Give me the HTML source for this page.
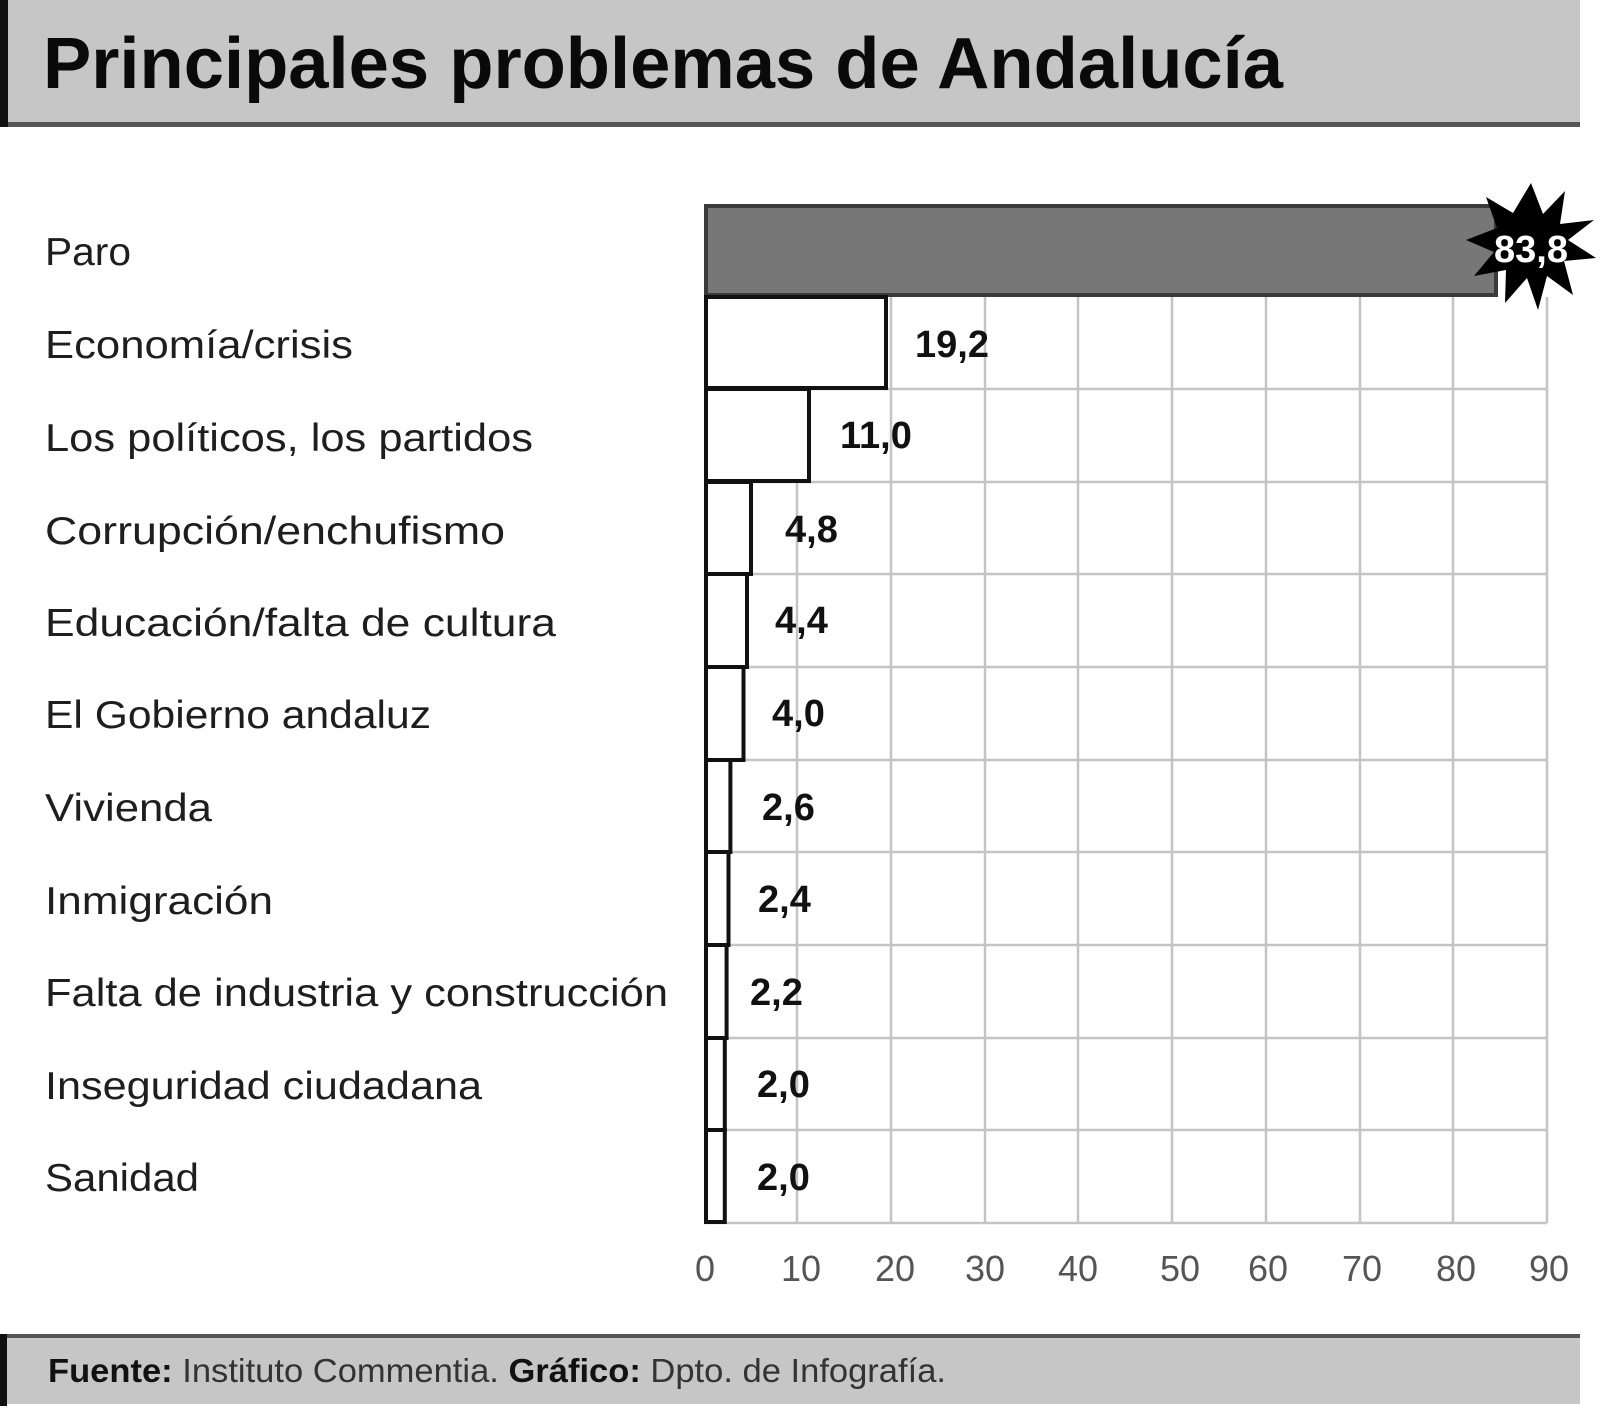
<!DOCTYPE html>
<html><head><meta charset="utf-8"><style>
html,body{margin:0;padding:0;background:#fff}
svg{display:block}
</style></head><body>
<svg width="1600" height="1409" viewBox="0 0 1600 1409" xmlns="http://www.w3.org/2000/svg" font-family="Liberation Sans, sans-serif">
<rect x="0" y="0" width="1580" height="126" fill="#c6c6c6"/>
<rect x="0" y="122" width="1580" height="5" fill="#555"/>
<rect x="0" y="0" width="8" height="127" fill="#111"/>
<text x="43" y="88" font-size="72" font-weight="bold" fill="#0a0a0a" textLength="1240" lengthAdjust="spacingAndGlyphs">Principales problemas de Andalucía</text>

<g stroke="#c4c4c4" stroke-width="2.5">
<line x1="797" y1="297" x2="797" y2="1223"/><line x1="891" y1="297" x2="891" y2="1223"/>
<line x1="985" y1="297" x2="985" y2="1223"/><line x1="1078" y1="297" x2="1078" y2="1223"/>
<line x1="1172" y1="297" x2="1172" y2="1223"/><line x1="1266" y1="297" x2="1266" y2="1223"/>
<line x1="1360" y1="297" x2="1360" y2="1223"/><line x1="1453" y1="297" x2="1453" y2="1223"/>
<line x1="1547" y1="297" x2="1547" y2="1223"/>
<line x1="705" y1="389" x2="1547" y2="389"/><line x1="705" y1="482" x2="1547" y2="482"/>
<line x1="705" y1="574" x2="1547" y2="574"/><line x1="705" y1="667" x2="1547" y2="667"/>
<line x1="705" y1="760" x2="1547" y2="760"/><line x1="705" y1="852" x2="1547" y2="852"/>
<line x1="705" y1="945" x2="1547" y2="945"/><line x1="705" y1="1038" x2="1547" y2="1038"/>
<line x1="705" y1="1130" x2="1547" y2="1130"/><line x1="705" y1="1223" x2="1547" y2="1223"/>
</g>

<rect x="706" y="206" width="790" height="89" fill="#777" stroke="#3a3a3a" stroke-width="4"/>
<g fill="#fff" stroke="#111" stroke-width="4">
<rect x="706" y="297" width="180" height="91"/>
<rect x="706" y="389" width="103" height="92"/>
<rect x="706" y="482" width="45" height="92"/>
<rect x="706" y="574" width="41" height="93"/>
<rect x="706" y="667" width="37.5" height="93"/>
<rect x="706" y="760" width="24.4" height="92"/>
<rect x="706" y="852" width="22.5" height="93"/>
<rect x="706" y="945" width="20.6" height="93"/>
<rect x="706" y="1038" width="18.8" height="92"/>
<rect x="706" y="1130" width="18.8" height="92"/>
</g>

<polygon fill="#000" points="1531,183 1543,214 1565,191 1560,224 1594,220 1568,240 1596,258 1564,261 1573,295 1547,276 1538,310 1527,278 1505,303 1506,270 1474,276 1494,252 1466,240 1497,228 1486,197 1513,213"/>
<text x="1531" y="262" font-size="38" font-weight="bold" fill="#fff" text-anchor="middle">83,8</text>

<g font-size="38" font-weight="bold" fill="#111">
<text x="915" y="357">19,2</text>
<text x="840" y="448">11,0</text>
<text x="785" y="542">4,8</text>
<text x="775" y="633">4,4</text>
<text x="772" y="726">4,0</text>
<text x="762" y="820">2,6</text>
<text x="758" y="912">2,4</text>
<text x="750" y="1005">2,2</text>
<text x="757" y="1097">2,0</text>
<text x="757" y="1190">2,0</text>
</g>

<g font-size="39" fill="#1e1e1e" lengthAdjust="spacingAndGlyphs">
<text x="45" y="265" textLength="86" lengthAdjust="spacingAndGlyphs">Paro</text>
<text x="45" y="358" textLength="308" lengthAdjust="spacingAndGlyphs">Economía/crisis</text>
<text x="45" y="451" textLength="488" lengthAdjust="spacingAndGlyphs">Los políticos, los partidos</text>
<text x="45" y="544" textLength="460" lengthAdjust="spacingAndGlyphs">Corrupción/enchufismo</text>
<text x="45" y="636" textLength="511" lengthAdjust="spacingAndGlyphs">Educación/falta de cultura</text>
<text x="45" y="728" textLength="386" lengthAdjust="spacingAndGlyphs">El Gobierno andaluz</text>
<text x="45" y="821" textLength="167" lengthAdjust="spacingAndGlyphs">Vivienda</text>
<text x="45" y="914" textLength="228" lengthAdjust="spacingAndGlyphs">Inmigración</text>
<text x="45" y="1006" textLength="623" lengthAdjust="spacingAndGlyphs">Falta de industria y construcción</text>
<text x="45" y="1099" textLength="437" lengthAdjust="spacingAndGlyphs">Inseguridad ciudadana</text>
<text x="45" y="1191" textLength="154" lengthAdjust="spacingAndGlyphs">Sanidad</text>
</g>

<g font-size="36" fill="#555" text-anchor="middle">
<text x="705" y="1281">0</text><text x="801" y="1281">10</text><text x="895" y="1281">20</text>
<text x="985" y="1281">30</text><text x="1078" y="1281">40</text><text x="1180" y="1281">50</text>
<text x="1268" y="1281">60</text><text x="1362" y="1281">70</text><text x="1456" y="1281">80</text>
<text x="1549" y="1281">90</text>
</g>

<rect x="0" y="1334" width="1580" height="70" fill="#c6c6c6"/>
<rect x="0" y="1334" width="1580" height="4" fill="#555"/>
<rect x="0" y="1334" width="7" height="72" fill="#111"/>
<text x="48" y="1382" font-size="33" fill="#333" textLength="898" lengthAdjust="spacingAndGlyphs"><tspan font-weight="bold" fill="#111">Fuente:</tspan> Instituto Commentia. <tspan font-weight="bold" fill="#111">Gráfico:</tspan> Dpto. de Infografía.</text>
</svg>
</body></html>
